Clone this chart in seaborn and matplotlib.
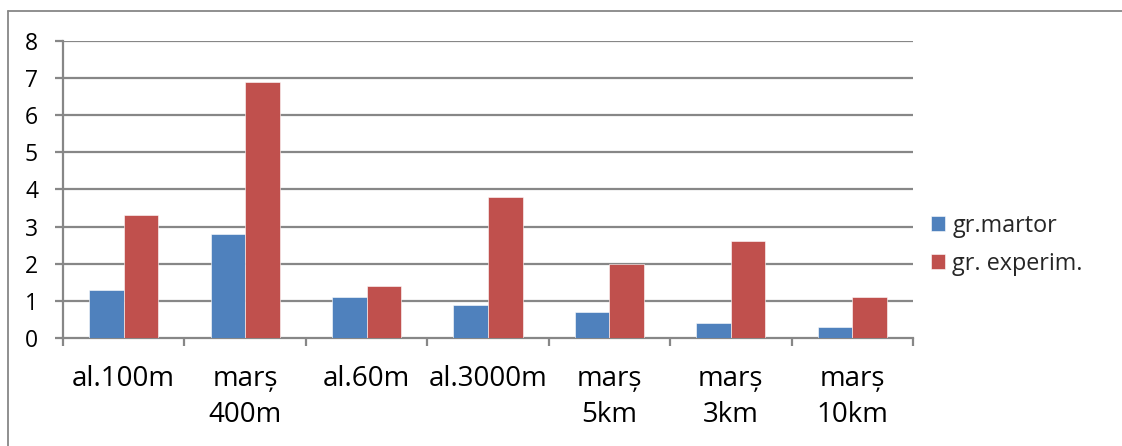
import matplotlib
matplotlib.use("Agg")
import matplotlib.pyplot as plt
from matplotlib.lines import Line2D
from matplotlib.ticker import FixedLocator
import seaborn as sns
import pandas as pd

# Probe categories and group results
categories = ["al.100m", "marș\n400m", "al.60m", "al.3000m", "marș\n5km", "marș\n3km", "marș\n10km"]
groups = ["gr.martor", "gr. experim."]
martor = [1.3, 2.8, 1.1, 0.9, 0.7, 0.4, 0.3]
experim = [3.3, 6.9, 1.4, 3.8, 2.0, 2.6, 1.1]
y_ticks = [0, 1, 2, 3, 4, 5, 6, 7, 8]

colors = ["#4F81BD", "#C0504D"]
grid_col = "#878787"

df = pd.DataFrame({
    "proba": categories * 2,
    "grupa": [groups[0]] * len(categories) + [groups[1]] * len(categories),
    "valoare": martor + experim,
})

sns.set_theme(style="white")
plt.rcParams["font.family"] = ["Open Sans", "DejaVu Sans"]

W, H = 1122, 446
fig = plt.figure(figsize=(W / 100, H / 100), dpi=100)
ax = fig.add_axes([63 / W, 1 - 338 / H, (913 - 63) / W, (338 - 41) / H])

sns.barplot(data=df, x="proba", y="valoare", hue="grupa", order=categories,
            hue_order=groups, palette=colors, width=0.57, saturation=1,
            edgecolor="white", linewidth=0.4, ax=ax, zorder=3)

ax.set_xlim(-0.5, len(categories) - 0.5)
ax.set_ylim(0, 8)
ax.set_yticks(y_ticks)
ax.set_xlabel("")
ax.set_ylabel("")

# horizontal gridlines
for v in y_ticks[1:]:
    ax.axhline(v, color=grid_col, lw=1.6, zorder=1)

for s in ["top", "right"]:
    ax.spines[s].set_visible(False)
for s in ["left", "bottom"]:
    ax.spines[s].set_color(grid_col)
    ax.spines[s].set_linewidth(1.6)

# tick marks between categories, labels centred under each group
ax.xaxis.set_minor_locator(FixedLocator([i - 0.5 for i in range(len(categories) + 1)]))
ax.tick_params(axis="x", which="minor", length=6, width=1.6, color=grid_col, direction="out", bottom=True)
ax.tick_params(axis="x", which="major", length=0, pad=19.5, labelsize=20, labelcolor="black")
ax.tick_params(axis="y", which="major", length=6, width=1.6, color=grid_col, direction="out",
               left=True, pad=12, labelsize=16.5, labelcolor="black")
for t in ax.get_xticklabels():
    t.set_linespacing(1.4)
    t.set_verticalalignment("top")

leg = ax.legend(loc="center left", bbox_to_anchor=(931 / W, 1 - 245 / H),
                bbox_transform=fig.transFigure, frameon=False, fontsize=16.8,
                handlelength=0.62, handleheight=0.62, handletextpad=0.3,
                labelspacing=0.6, borderaxespad=0, borderpad=0)

# outer chart frame
fig.add_artist(Line2D([7.5 / W, 7.5 / W], [0, 1 - 10.5 / H], color=grid_col, lw=1.3,
                      transform=fig.transFigure))
fig.add_artist(Line2D([7.5 / W, 1], [1 - 10.5 / H, 1 - 10.5 / H], color=grid_col, lw=1.3,
                      transform=fig.transFigure))

fig.savefig("out.png", dpi=100)
